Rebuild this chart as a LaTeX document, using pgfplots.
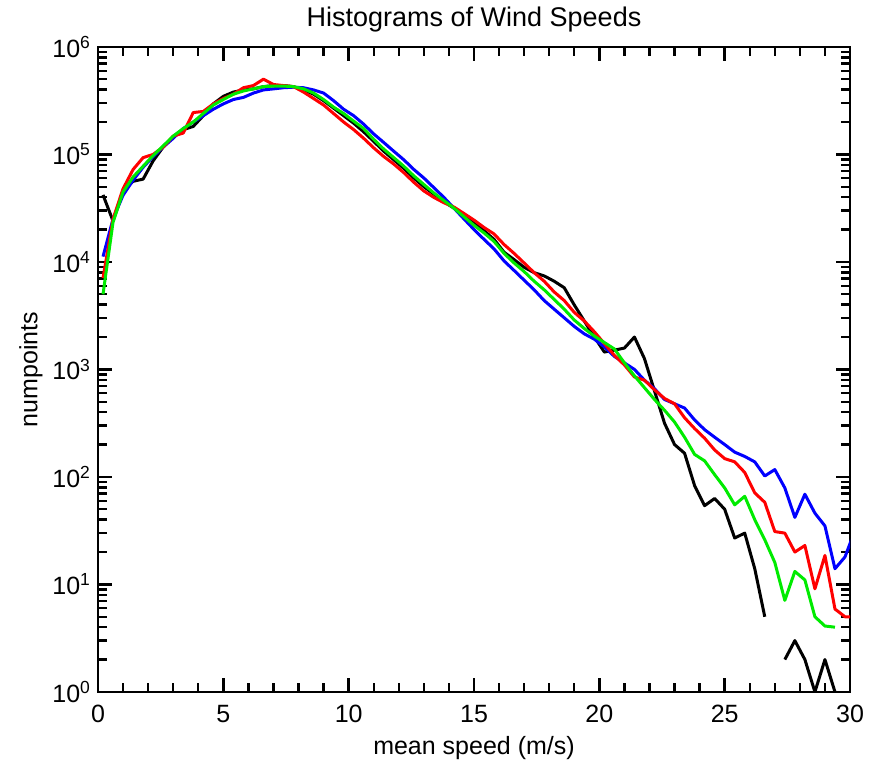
\documentclass[border=0pt]{standalone}
\usepackage{fontspec}
\setmainfont{Liberation Sans}
\usepackage{pgfplots}
\usepackage{pgfplotstable}
\pgfplotsset{compat=1.18}

\pgfplotstableread{
x y
0.2 42000
0.6 24000
1.0 45700
1.4 56200
1.8 58900
2.2 87100
2.6 117000
3.0 145000
3.4 170000
3.8 182000
4.2 229000
4.6 295000
5.0 347000
5.4 380000
5.8 398000
6.2 407000
6.6 427000
7.0 437000
7.4 437000
7.8 427000
8.2 398000
8.6 363000
9.0 316000
9.4 269000
9.8 229000
10.2 195000
10.6 162000
11.0 132000
11.4 107000
11.8 89100
12.2 74100
12.6 60300
13.0 50100
13.4 42700
13.8 36300
14.2 31600
14.6 26900
15.0 22900
15.4 19500
15.8 16200
16.2 12300
16.6 10500
17.0 8910
17.4 7940
17.8 7410
18.2 6610
18.6 5750
19.0 3980
19.4 2820
19.8 2000
20.2 1450
20.6 1510
21.0 1580
21.4 2000
21.8 1260
22.2 631
22.6 316
23.0 200
23.4 166
23.8 83
24.2 54
24.6 63
25.0 50
25.4 27
25.8 30
26.2 14
26.6 5.0
27.0 nan
27.4 2.0
27.8 3.0
28.2 2.0
28.6 1.0
29.0 2.0
29.4 1.0
}\blackdata

\pgfplotstableread{
x y
0.2 7080
0.6 25100
1.0 47900
1.4 72400
1.8 93300
2.2 100000
2.6 117000
3.0 148000
3.4 158000
3.8 245000
4.2 251000
4.6 295000
5.0 331000
5.4 363000
5.8 417000
6.2 437000
6.6 501000
7.0 447000
7.4 437000
7.8 427000
8.2 380000
8.6 331000
9.0 288000
9.4 240000
9.8 200000
10.2 170000
10.6 141000
11.0 115000
11.4 95500
11.8 81300
12.2 67600
12.6 55000
13.0 45700
13.4 39800
13.8 35500
14.2 32400
14.6 28200
15.0 24500
15.4 20900
15.8 18200
16.2 14500
16.6 12000
17.0 9770
17.4 7940
17.8 6610
18.2 5250
18.6 4370
19.0 3390
19.4 2820
19.8 2240
20.2 1740
20.6 1350
21.0 1100
21.4 851
21.8 794
22.2 646
22.6 537
23.0 479
23.4 355
23.8 282
24.2 229
24.6 178
25.0 148
25.4 138
25.8 110
26.2 71
26.6 58
27.0 31
27.4 30
27.8 20
28.2 23
28.6 9.1
29.0 18.6
29.4 5.9
29.8 5.0
30.2 5.0
}\reddata

\pgfplotstableread{
x y
0.2 11200
0.6 25100
1.0 41700
1.4 57500
1.8 75900
2.2 95500
2.6 117000
3.0 141000
3.4 174000
3.8 200000
4.2 229000
4.6 263000
5.0 295000
5.4 324000
5.8 339000
6.2 372000
6.6 398000
7.0 407000
7.4 417000
7.8 422000
8.2 417000
8.6 398000
9.0 372000
9.4 316000
9.8 263000
10.2 229000
10.6 191000
11.0 155000
11.4 129000
11.8 107000
12.2 89100
12.6 72400
13.0 60300
13.4 49000
13.8 39800
14.2 31600
14.6 25100
15.0 20000
15.4 16200
15.8 13200
16.2 10200
16.6 8320
17.0 6760
17.4 5500
17.8 4370
18.2 3630
18.6 3020
19.0 2510
19.4 2140
19.8 1910
20.2 1620
20.6 1320
21.0 1150
21.4 1000
21.8 794
22.2 661
22.6 525
23.0 479
23.4 437
23.8 339
24.2 275
24.6 234
25.0 200
25.4 170
25.8 155
26.2 138
26.6 102
27.0 117
27.4 79
27.8 42
28.2 69
28.6 46
29.0 35
29.4 14
29.8 18
30.2 32
}\bluedata

\pgfplotstableread{
x y
0.2 5000
0.6 23400
1.0 44700
1.4 61700
1.8 77600
2.2 97700
2.6 120000
3.0 148000
3.4 174000
3.8 200000
4.2 240000
4.6 288000
5.0 324000
5.4 363000
5.8 389000
6.2 407000
6.6 427000
7.0 432000
7.4 432000
7.8 427000
8.2 407000
8.6 372000
9.0 324000
9.4 275000
9.8 240000
10.2 204000
10.6 174000
11.0 138000
11.4 112000
11.8 93300
12.2 77600
12.6 63100
13.0 52500
13.4 43700
13.8 37200
14.2 31600
14.6 26300
15.0 21900
15.4 18600
15.8 15500
16.2 12000
16.6 9770
17.0 8130
17.4 6610
17.8 5500
18.2 4470
18.6 3630
19.0 2880
19.4 2400
19.8 2040
20.2 1780
20.6 1550
21.0 1150
21.4 871
21.8 676
22.2 525
22.6 417
23.0 324
23.4 234
23.8 162
24.2 141
24.6 105
25.0 79
25.4 55
25.8 66
26.2 40
26.6 26
27.0 16
27.4 7.1
27.8 13.2
28.2 11
28.6 5.0
29.0 4.1
29.4 4.0
}\greendata

\definecolor{idlred}{RGB}{255,0,0}
\definecolor{idlblue}{RGB}{0,0,255}
\definecolor{idlgreen}{RGB}{0,235,0}

\begin{document}
\begin{tikzpicture}
\begin{axis}[
  scale only axis,
  width=376pt, height=322.5pt,
  xmin=0, xmax=30, ymin=1, ymax=1e6,
  ymode=log, log basis y=10,
  xtick={0,5,...,30},
  minor x tick num=4,
  ytick={1,10,100,1000,10000,100000,1000000},
  minor ytick={2,3,4,5,6,7,8,9,20,30,40,50,60,70,80,90,200,300,400,500,600,700,800,900,2000,3000,4000,5000,6000,7000,8000,9000,20000,30000,40000,50000,60000,70000,80000,90000,200000,300000,400000,500000,600000,700000,800000,900000},
  yticklabels={10\textsuperscript{0},10\textsuperscript{1},10\textsuperscript{2},10\textsuperscript{3},10\textsuperscript{4},10\textsuperscript{5},10\textsuperscript{6}},
  xticklabel={\pgfmathprintnumber[assume math mode=true]{\tick}},
  tick align=inside,
  major tick length=7pt, minor tick length=4.5pt,
  every tick/.append style={black, line width=1.3pt},
  every minor tick/.append style={black, line width=1.2pt},
  axis line style={line width=1.3pt},
  tick label style={font=\fontsize{12.5}{14}\selectfont},
  xticklabel style={yshift=-3pt},
  label style={font=\fontsize{12.5}{14}\selectfont},
  title style={font=\fontsize{13.5}{15}\selectfont, yshift=-2pt},
  title={Histograms of Wind Speeds},
  xlabel={mean speed (m/s)},
  ylabel={numpoints},
  ylabel style={yshift=-2pt},
  unbounded coords=jump,
  every axis plot/.append style={line width=1.5pt, line join=round},
]
\addplot[black] table[x=x,y=y] {\blackdata};
\addplot[idlblue] table[x=x,y=y] {\bluedata};
\addplot[idlred] table[x=x,y=y] {\reddata};
\addplot[idlgreen] table[x=x,y=y] {\greendata};
\end{axis}
\path ([shift={(-49pt,-34pt)}]current axis.south west) rectangle ([shift={(13pt,21pt)}]current axis.north east);
\end{tikzpicture}
\end{document}
